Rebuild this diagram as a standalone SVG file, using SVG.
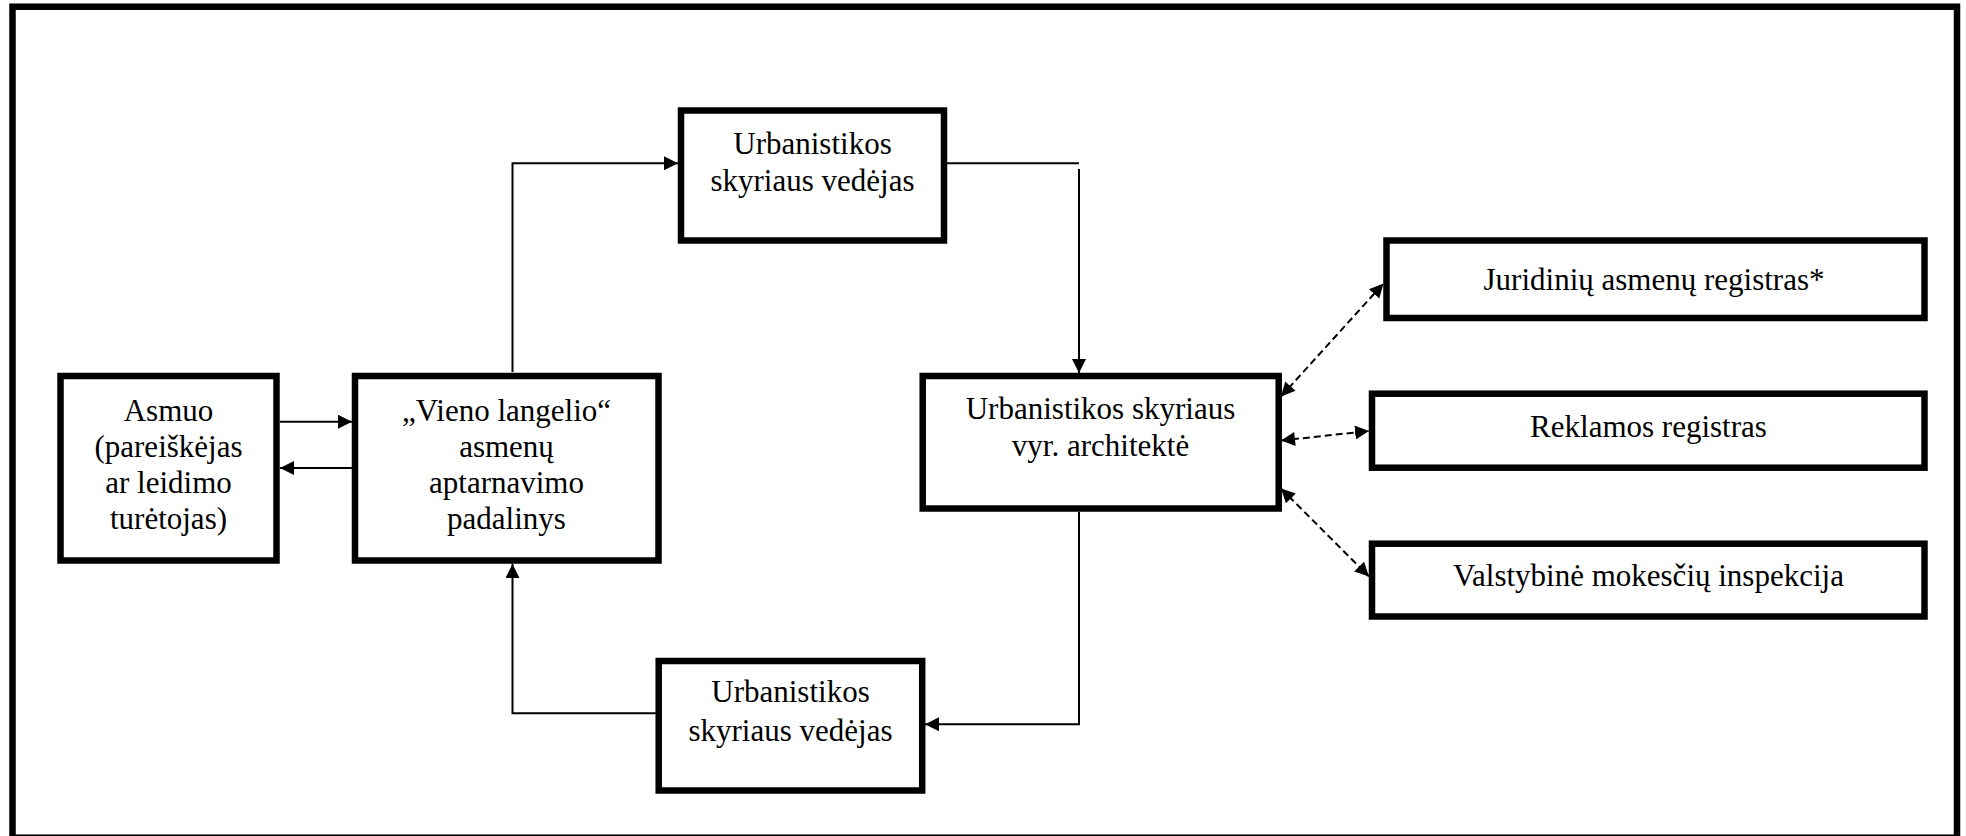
<svg xmlns="http://www.w3.org/2000/svg" width="1966" height="836" viewBox="0 0 1966 836">
<style>
.box{fill:#fff;stroke:#000;stroke-width:6.5}
.t{font-family:"Liberation Serif","Times New Roman",serif;font-size:31px;fill:#000;text-anchor:middle}
.c{fill:none;stroke:#000;stroke-width:2}
.d{fill:none;stroke:#000;stroke-width:2;stroke-dasharray:7 4}
</style>
<defs>
<marker id="ah" markerUnits="userSpaceOnUse" markerWidth="15" markerHeight="15" refX="14" refY="7" orient="auto">
<path d="M0,0 L14,7 L0,14 z" fill="#000"/>
</marker>
<marker id="as" markerUnits="userSpaceOnUse" markerWidth="15" markerHeight="15" refX="0" refY="7" orient="auto">
<path d="M14,0 L0,7 L14,14 z" fill="#000"/>
</marker>
</defs>
<rect x="0" y="0" width="1966" height="836" fill="#fff"/>
<rect id="frame" x="12.5" y="6.7" width="1944.5" height="831" fill="none" stroke="#000" stroke-width="6.5"/>

<g id="connectors">
<line class="c" x1="280" y1="421.7" x2="352" y2="421.7" marker-end="url(#ah)"/>
<line class="c" x1="352" y1="468" x2="280" y2="468" marker-end="url(#ah)"/>
<polyline class="c" points="512.5,372 512.5,163.3 678,163.3" marker-end="url(#ah)"/>
<line class="c" x1="947" y1="163.3" x2="1079" y2="163.3"/>
<line class="c" x1="1079" y1="169" x2="1079" y2="373" marker-end="url(#ah)"/>
<polyline class="c" points="1079,512 1079,724.3 925,724.3" marker-end="url(#ah)"/>
<polyline class="c" points="656,713.3 512.5,713.3 512.5,564" marker-end="url(#ah)"/>
<line class="d" x1="1281" y1="396.5" x2="1383.5" y2="283.5" marker-start="url(#as)" marker-end="url(#ah)"/>
<line class="d" x1="1281" y1="440.5" x2="1369" y2="431" marker-start="url(#as)" marker-end="url(#ah)"/>
<line class="d" x1="1281" y1="488.5" x2="1369" y2="576.5" marker-start="url(#as)" marker-end="url(#ah)"/>
</g>

<g id="asmuo">
<rect class="box" x="60.5" y="376" width="216" height="184.5"/>
<text class="t" x="168.5" y="421">Asmuo</text>
<text class="t" x="168.5" y="457">(pareiškėjas</text>
<text class="t" x="168.5" y="493">ar leidimo</text>
<text class="t" x="168.5" y="529">turėtojas)</text>
</g>

<g id="vieno">
<rect class="box" x="355" y="376" width="303.5" height="184.5"/>
<text class="t" x="506.5" y="421">„Vieno langelio“</text>
<text class="t" x="506.5" y="457">asmenų</text>
<text class="t" x="506.5" y="493">aptarnavimo</text>
<text class="t" x="506.5" y="529">padalinys</text>
</g>

<g id="vedejas-top">
<rect class="box" x="681" y="110.5" width="263" height="130"/>
<text class="t" x="812.5" y="153.5">Urbanistikos</text>
<text class="t" x="812.5" y="190.5">skyriaus vedėjas</text>
</g>

<g id="architekte">
<rect class="box" x="922.7" y="376" width="356" height="132.5"/>
<text class="t" x="1100.5" y="418.5">Urbanistikos skyriaus</text>
<text class="t" x="1100.5" y="455.5">vyr. architektė</text>
</g>

<g id="vedejas-bottom">
<rect class="box" x="658.7" y="661" width="263.5" height="129.5"/>
<text class="t" x="790.5" y="702">Urbanistikos</text>
<text class="t" x="790.5" y="740.5">skyriaus vedėjas</text>
</g>

<g id="juridiniu">
<rect class="box" x="1386.5" y="240.5" width="538" height="77.5"/>
<text class="t" x="1654" y="289.5">Juridinių asmenų registras*</text>
</g>

<g id="reklamos">
<rect class="box" x="1372" y="393.7" width="552.5" height="74"/>
<text class="t" x="1648.5" y="437">Reklamos registras</text>
</g>

<g id="vmi">
<rect class="box" x="1372" y="543.7" width="552.5" height="72.8"/>
<text class="t" x="1648.5" y="586">Valstybinė mokesčių inspekcija</text>
</g>
</svg>
